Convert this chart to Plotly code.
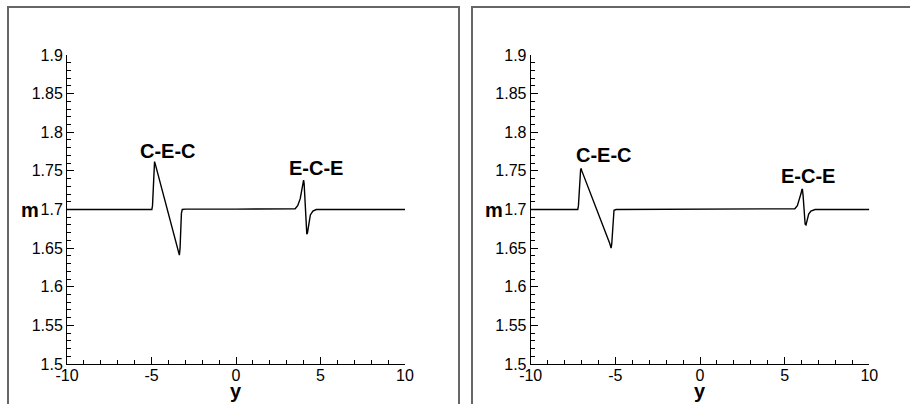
import plotly.graph_objects as go

W, H = 910, 404

# ---- data ----
left_y = [-10, -4.98, -4.94, -4.90, -4.86, -4.82, -4.78, -3.45, -3.39, -3.35, -3.31, -3.27, -3.23, -3.18,
          -3.0, 0.0, 3.3, 3.5, 3.65, 3.8, 3.9, 3.97, 4.0, 4.03, 4.07, 4.11, 4.15, 4.19, 4.23, 4.3, 4.4,
          4.55, 4.75, 10]
left_m = [1.700, 1.700, 1.705, 1.730, 1.755, 1.762, 1.759, 1.648, 1.642, 1.641, 1.650, 1.675, 1.695, 1.700,
          1.7005, 1.7005, 1.7003, 1.701, 1.705, 1.714, 1.726, 1.736, 1.738, 1.734, 1.715, 1.690, 1.673, 1.668,
          1.670, 1.682, 1.693, 1.698, 1.700, 1.700]

right_y = [-10, -7.22, -7.18, -7.14, -7.10, -7.05, -7.02, -6.98, -5.33, -5.28, -5.25, -5.21, -5.17, -5.13,
           -5.08, -4.95, 0.0, 5.4, 5.6, 5.75, 5.88, 5.97, 6.02, 6.05, 6.09, 6.13, 6.17, 6.21, 6.26, 6.32,
           6.42, 6.55, 6.8, 10]
right_m = [1.700, 1.700, 1.705, 1.725, 1.743, 1.752, 1.753, 1.750, 1.656, 1.651, 1.650, 1.656, 1.675, 1.694,
           1.699, 1.700, 1.7003, 1.7002, 1.701, 1.705, 1.713, 1.721, 1.726, 1.726, 1.718, 1.700, 1.686, 1.681,
           1.680, 1.686, 1.694, 1.698, 1.700, 1.700]

x_ticks = [-10, -5, 0, 5, 10]
x_tick_labels = ["-10", "-5", "0", "5", "10"]
m_ticks = [1.5, 1.55, 1.6, 1.65, 1.7, 1.75, 1.8, 1.85, 1.9]
m_tick_labels = ["1.5", "1.55", "1.6", "1.65", "1.7", "1.75", "1.8", "1.85", "1.9"]

# label positions (data coords)
left_labels = [("C-E-C", -4.0, 1.776), ("E-C-E", 4.75, 1.754)]
right_labels = [("C-E-C", -5.7, 1.771), ("E-C-E", 6.4, 1.743)]

FONT = "Arial, Liberation Sans, sans-serif"

fig = go.Figure()
fig.add_trace(go.Scatter(x=left_y, y=left_m, mode="lines", line=dict(color="black", width=1.4),
                         xaxis="x", yaxis="y", showlegend=False))
fig.add_trace(go.Scatter(x=right_y, y=right_m, mode="lines", line=dict(color="black", width=1.4),
                         xaxis="x2", yaxis="y2", showlegend=False))

def px(v):
    return v / W

def py(v):
    return 1 - v / H

ydom = [py(364), py(55)]
xdom1 = [px(67), px(405)]
xdom2 = [px(530.7), px(869.3)]

xa = dict(range=[-10, 10], tickvals=x_ticks, ticktext=x_tick_labels, ticks="inside", ticklen=7,
          tickcolor="black", showline=True, linecolor="black", linewidth=1, showgrid=False,
          zeroline=False, tickfont=dict(family=FONT, size=16, color="black"), automargin=False,
          ticklabelstandoff=-3,
          minor=dict(dtick=1, tick0=0, ticks="inside", ticklen=4, tickcolor="black", showgrid=False),
          fixedrange=True)
ya = dict(range=[1.5, 1.9], tickvals=m_ticks, ticktext=m_tick_labels, ticks="inside", ticklen=7,
          tickcolor="black", showline=True, linecolor="black", linewidth=1, showgrid=False,
          zeroline=False, tickfont=dict(family=FONT, size=16, color="black"), automargin=False,
          minor=dict(dtick=0.01, tick0=1.5, ticks="inside", ticklen=4, tickcolor="black", showgrid=False),
          fixedrange=True)

fig.update_layout(
    template="none",
    width=W, height=H, margin=dict(l=0, r=0, t=0, b=0, pad=0), autosize=False,
    paper_bgcolor="white", plot_bgcolor="white",
    xaxis=dict(domain=xdom1, anchor="y", **xa),
    yaxis=dict(domain=ydom, anchor="x", **ya),
    xaxis2=dict(domain=xdom2, anchor="y2", **xa),
    yaxis2=dict(domain=ydom, anchor="x2", **ya),
)

annotations = []
for (txt, xx, yy) in left_labels:
    annotations.append(dict(text="<b>%s</b>" % txt, x=xx, y=yy, xref="x", yref="y", showarrow=False,
                            xanchor="center", yanchor="middle",
                            font=dict(family=FONT, size=20, color="black")))
for (txt, xx, yy) in right_labels:
    annotations.append(dict(text="<b>%s</b>" % txt, x=xx, y=yy, xref="x2", yref="y2", showarrow=False,
                            xanchor="center", yanchor="middle",
                            font=dict(family=FONT, size=20, color="black")))
# axis titles
for dom in [xdom1, xdom2]:
    annotations.append(dict(text="<b>y</b>", x=(dom[0] + dom[1]) / 2, y=py(391), xref="paper", yref="paper",
                            xanchor="center", yanchor="middle",
                            showarrow=False, font=dict(family=FONT, size=20, color="black")))
    annotations.append(dict(text="<b>m</b>", x=dom[0] - px(37), y=py(210), xref="paper", yref="paper",
                            xanchor="center", yanchor="middle",
                            showarrow=False, font=dict(family=FONT, size=20, color="black")))
fig.update_layout(annotations=annotations)

# panel frames
fig.add_shape(type="rect", xref="paper", yref="paper", x0=px(8), x1=px(459), y0=py(420), y1=py(7),
              line=dict(color="#666666", width=2))
fig.add_shape(type="rect", xref="paper", yref="paper", x0=px(472), x1=px(930), y0=py(420), y1=py(7),
              line=dict(color="#666666", width=2))

fig.write_html("out.html", config={"displayModeBar": False},
               post_script="document.body.style.margin='0px';")
